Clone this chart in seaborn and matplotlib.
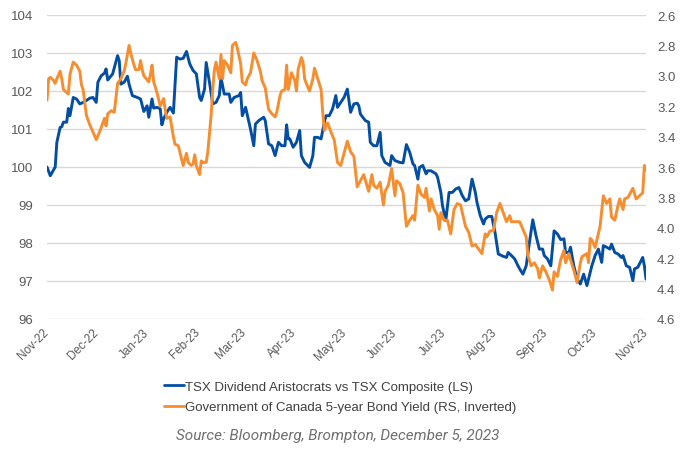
import matplotlib
matplotlib.use('Agg')
import matplotlib.pyplot as plt
import matplotlib.dates as mdates
from matplotlib.lines import Line2D
import pandas as pd
import seaborn as sns

# days since 1 Nov 2022
start = pd.Timestamp('2022-11-01')

blue_days = [0, 2, 5, 6, 8, 9, 10, 12, 13, 14, 16, 18, 20, 22, 24, 26, 28, 30, 31, 33,
             35, 36, 37, 40, 43, 44, 45, 47, 49, 50, 52, 55, 57, 59, 61, 62, 64, 65, 67, 69,
             70, 71, 73, 75, 77, 79, 81, 83, 85, 87, 89, 91, 93, 94, 96, 97, 99, 101, 103, 105,
             106, 108, 111, 112, 114, 117, 118, 119, 121, 124, 126, 127, 129, 132, 133, 135, 137, 139, 141, 143,
             145, 146, 147, 148, 150, 152, 154, 155, 157, 160, 162, 163, 165, 167, 169, 170, 172, 174, 176, 177,
             179, 181, 183, 185, 187, 189, 190, 191, 194, 196, 197, 199, 201, 203, 204, 206, 209, 210, 212, 215,
             217, 219, 221, 223, 224, 226, 227, 229, 231, 232, 234, 237, 238, 240, 241, 243, 245, 247, 249, 251,
             253, 255, 257, 259, 261, 262, 264, 266, 267, 269, 271, 273, 275, 278, 280, 281, 283, 285, 287, 288,
             290, 292, 294, 296, 298, 300, 302, 303, 305, 307, 309, 311, 313, 315, 316, 318, 319, 321, 323, 325,
             327, 329, 331, 332, 334, 336, 338, 339, 341, 343, 344, 346, 348, 350, 351, 353, 355, 357, 358, 360,
             363, 364, 365]
blue_vals = [100.0, 99.77, 100.0, 100.65, 101.04, 101.06, 101.18, 101.18, 101.54, 101.35, 101.83, 101.79, 101.66, 101.70, 101.75, 101.81, 101.83, 101.70, 102.23, 102.40,
             102.47, 102.58, 102.29, 102.45, 102.93, 102.80, 102.18, 102.23, 102.39, 102.18, 101.88, 101.83, 101.79, 101.46, 101.61, 101.31, 101.79, 101.55, 101.57, 101.53,
             101.11, 101.26, 101.44, 101.57, 101.42, 102.89, 102.84, 102.86, 103.04, 102.71, 102.54, 102.45, 101.83, 101.75, 102.05, 102.75, 102.23, 101.66, 101.70, 101.88,
             102.36, 101.92, 101.92, 101.70, 101.83, 101.88, 101.96, 101.35, 101.57, 101.00, 100.56, 101.13, 101.22, 101.31, 101.22, 100.61, 100.56, 100.30, 100.65, 100.56,
             100.56, 101.11, 100.74, 100.74, 100.52, 100.65, 100.96, 100.30, 100.12, 99.99, 100.30, 100.78, 100.78, 100.74, 101.18, 101.35, 101.35, 101.53, 101.88, 101.57,
             101.70, 101.83, 102.05, 101.44, 101.66, 101.68, 101.61, 101.39, 101.22, 101.18, 100.65, 100.56, 100.56, 100.91, 100.30, 100.12, 100.04, 100.30, 100.17, 100.12,
             100.11, 100.59, 100.39, 100.08, 100.04, 99.68, 99.99, 100.04, 99.82, 99.90, 99.90, 99.82, 99.73, 99.33, 98.98, 98.59, 99.33, 99.33, 99.42, 99.46,
             99.25, 99.11, 99.16, 99.68, 99.33, 99.07, 98.72, 98.50, 98.63, 98.70, 98.70, 98.28, 97.71, 97.65, 97.62, 97.75, 97.67, 97.58, 97.40, 97.32,
             97.18, 97.40, 98.02, 98.61, 98.19, 97.84, 97.84, 97.67, 97.58, 97.40, 98.32, 98.24, 98.09, 98.11, 97.75, 97.75, 97.89, 97.40, 97.05, 96.92,
             97.18, 96.88, 97.23, 97.40, 97.67, 97.84, 97.49, 97.93, 97.89, 97.84, 97.97, 97.75, 97.71, 97.62, 97.67, 97.40, 97.36, 97.01, 97.32, 97.36,
             97.62, 97.40, 97.05]

orange_days = [0, 1, 2, 4, 5, 6, 8, 9, 10, 12, 13, 14, 16, 18, 20, 21, 22, 24, 26, 28,
               30, 32, 34, 35, 36, 37, 39, 41, 43, 45, 47, 48, 50, 51, 53, 54, 56, 57, 58, 59,
               62, 63, 64, 65, 67, 69, 71, 72, 73, 75, 77, 78, 80, 83, 85, 86, 88, 89, 90, 91,
               93, 94, 95, 97, 98, 100, 101, 102, 103, 105, 106, 107, 108, 110, 112, 113, 115, 116, 118, 119,
               121, 122, 124, 126, 128, 130, 131, 133, 134, 135, 137, 139, 140, 142, 143, 145, 146, 147, 149, 151,
               152, 153, 155, 156, 157, 158, 160, 162, 163, 165, 167, 168, 169, 171, 173, 175, 177, 179, 183, 185,
               187, 189, 191, 193, 196, 198, 199, 201, 203, 205, 206, 208, 210, 212, 213, 215, 217, 219, 221, 223,
               224, 226, 228, 230, 231, 233, 234, 236, 238, 239, 240, 242, 244, 246, 248, 250, 252, 255, 257, 259,
               261, 263, 265, 267, 268, 270, 272, 274, 276, 278, 280, 282, 283, 286, 288, 290, 292, 293, 295, 297,
               299, 300, 302, 304, 306, 308, 309, 311, 313, 315, 316, 318, 319, 321, 323, 325, 326, 329, 330, 331,
               332, 334, 337, 339, 341, 343, 344, 346, 348, 349, 351, 352, 354, 356, 357, 359, 361, 363, 364, 365]
orange_vals = [3.16, 3.02, 3.01, 3.03, 3.05, 3.02, 2.97, 3.02, 3.09, 3.11, 3.12, 2.99, 2.91, 2.93, 2.97, 3.06, 3.09, 3.26, 3.32, 3.37,
               3.42, 3.37, 3.31, 3.28, 3.33, 3.25, 3.23, 3.24, 3.05, 3.02, 2.97, 2.92, 2.80, 2.85, 2.93, 2.96, 2.96, 2.90, 2.96, 3.00,
               3.04, 2.99, 2.93, 3.04, 3.11, 3.20, 3.15, 3.22, 3.28, 3.27, 3.40, 3.45, 3.46, 3.59, 3.51, 3.57, 3.59, 3.58, 3.52, 3.59,
               3.65, 3.56, 3.57, 3.57, 3.50, 3.26, 3.09, 2.96, 2.91, 3.02, 2.86, 3.02, 2.90, 2.93, 2.98, 2.80, 2.78, 2.82, 2.92, 3.04,
               3.06, 3.02, 2.98, 2.85, 2.90, 2.97, 3.03, 3.08, 3.15, 3.22, 3.25, 3.27, 3.24, 3.13, 3.10, 3.09, 2.93, 3.09, 2.98, 3.03,
               3.10, 2.96, 2.88, 2.91, 3.02, 3.05, 3.10, 3.02, 2.95, 3.02, 3.09, 3.24, 3.36, 3.31, 3.37, 3.42, 3.57, 3.59, 3.43, 3.50,
               3.53, 3.73, 3.69, 3.65, 3.76, 3.65, 3.72, 3.74, 3.70, 3.85, 3.76, 3.72, 3.61, 3.79, 3.69, 3.71, 3.77, 3.99, 3.95, 3.92,
               3.95, 3.72, 3.78, 3.80, 3.74, 3.89, 3.81, 3.88, 3.92, 4.01, 3.90, 3.95, 3.95, 4.04, 3.88, 3.84, 3.85, 3.99, 4.03, 4.12,
               4.11, 4.14, 4.17, 4.04, 4.06, 4.02, 4.02, 3.90, 3.84, 3.90, 3.96, 3.92, 3.96, 3.96, 3.96, 4.01, 4.06, 4.18, 4.25, 4.23,
               4.27, 4.33, 4.25, 4.29, 4.34, 4.41, 4.29, 4.32, 4.21, 4.15, 4.23, 4.17, 4.21, 4.28, 4.36, 4.23, 4.19, 4.17, 4.23, 4.07,
               4.08, 4.13, 3.99, 3.79, 3.84, 3.81, 3.93, 3.95, 3.85, 3.81, 3.88, 3.81, 3.80, 3.76, 3.74, 3.81, 3.79, 3.77, 3.59, 3.62]

blue_label = 'TSX Dividend Aristocrats vs TSX Composite (LS)'
orange_label = 'Government of Canada 5-year Bond Yield (RS, Inverted)'
source_text = 'Source: Bloomberg, Brompton, December 5, 2023'

left_ticks = [96, 97, 98, 99, 100, 101, 102, 103, 104]
right_ticks = [2.6, 2.8, 3.0, 3.2, 3.4, 3.6, 3.8, 4.0, 4.2, 4.4, 4.6]
month_ticks = pd.date_range('2022-11-01', '2023-11-01', freq='MS')

BLUE = '#034EA2'
ORANGE = '#F68D2E'
GRID = '#d9d9d9'
TXT = '#595959'

blue_df = pd.DataFrame({'date': start + pd.to_timedelta(blue_days, unit='D'), 'value': blue_vals})
orange_df = pd.DataFrame({'date': start + pd.to_timedelta(orange_days, unit='D'), 'value': orange_vals})

sns.set_style('white')
plt.rcParams['font.family'] = ['Liberation Sans', 'DejaVu Sans']

fig = plt.figure(figsize=(6.88, 4.56), dpi=100)
ax = fig.add_axes([47 / 688, 136 / 456, 599 / 688, 304 / 456])
sns.lineplot(data=blue_df, x='date', y='value', ax=ax, color=BLUE, lw=2.1, estimator=None)
ax2 = ax.twinx()
sns.lineplot(data=orange_df, x='date', y='value', ax=ax2, color=ORANGE, lw=2.1, estimator=None)

ax.set_xlim(start, start + pd.Timedelta(days=365))
ax.set_ylim(96, 104)
ax2.set_ylim(4.6, 2.6)
ax.set_yticks(left_ticks)
ax2.set_yticks(right_ticks)
ax2.set_yticklabels([f'{t:.1f}' for t in right_ticks])
ax.set_xticks(month_ticks)
ax.xaxis.set_major_formatter(mdates.DateFormatter('%b-%y'))

for a in (ax, ax2):
    a.set_xlabel('')
    a.set_ylabel('')
    for s in a.spines.values():
        s.set_visible(False)
ax.grid(axis='y', color=GRID, lw=1)
ax.grid(axis='x', visible=False)
ax2.grid(False)
ax.set_axisbelow(True)

ax.tick_params(axis='x', length=4, width=1, color=GRID, pad=4, labelsize=8.5, labelcolor=TXT)
ax.tick_params(axis='y', length=0, pad=10, labelsize=9.5, labelcolor=TXT)
ax2.tick_params(axis='y', length=0, pad=8, labelsize=9.5, labelcolor=TXT)
plt.setp(ax.get_xticklabels(), rotation=45, ha='right', va='center', rotation_mode='anchor')

handles = [Line2D([], [], color=BLUE, lw=2), Line2D([], [], color=ORANGE, lw=2)]
fig.legend(handles, [blue_label, orange_label], loc='center', bbox_to_anchor=(340 / 688, 1 - 398 / 456),
           frameon=False, fontsize=9.5, handlelength=1.5, handletextpad=0.1, labelspacing=0.6,
           labelcolor='#404040', alignment='left')

fig.text(338 / 688, 1 - 436 / 456, source_text, ha='center', va='center', fontsize=11,
         style='italic', color='#6e6e6e', family=['Roboto', 'DejaVu Sans'])

fig.savefig('out.png', dpi=100)
